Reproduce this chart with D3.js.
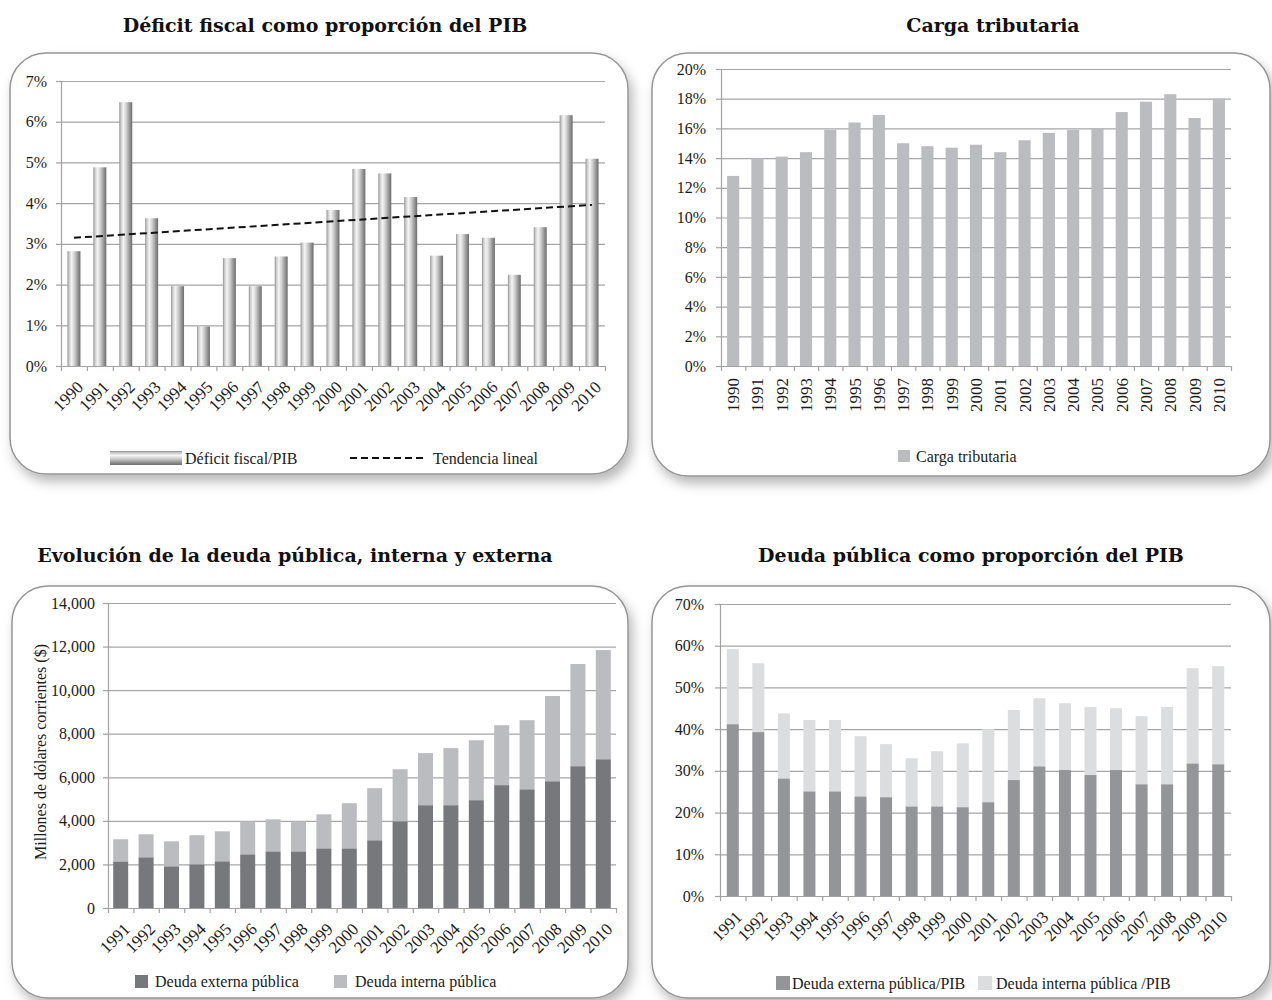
<!DOCTYPE html>
<html>
<head>
<meta charset="utf-8">
<script src="https://cdn.jsdelivr.net/npm/d3@7/dist/d3.min.js"></script>
<style>
  html, body { margin: 0; padding: 0; background: #ffffff; }
  svg { display: block; }
  .title { font-family: "DejaVu Serif", serif; font-weight: bold; font-size: 19px; fill: #111; }
  .tick text, .lbl { font-family: "Liberation Serif", serif; font-size: 16px; fill: #1b1b1b; }
  .yr { font-family: "Liberation Serif", serif; font-size: 17px; fill: #1b1b1b; }
  .legend text { font-family: "Liberation Serif", serif; font-size: 16px; fill: #1b1b1b; }
  .axis path, .axis line { stroke: #a2a2a2; stroke-width: 1.2; }
  .grid line { stroke: #a6a6a6; stroke-width: 1.2; }
  .grid path { display: none; }
</style>
</head>
<body>
<svg id="chart" width="1272" height="1000"></svg>
<script>
// ---- data ----
const yearsA = ["1990","1991","1992","1993","1994","1995","1996","1997","1998","1999","2000",
                "2001","2002","2003","2004","2005","2006","2007","2008","2009","2010"];
const yearsB = ["1991","1992","1993","1994","1995","1996","1997","1998","1999","2000",
                "2001","2002","2003","2004","2005","2006","2007","2008","2009","2010"];

// Déficit fiscal / PIB (%)
const deficitPIB = [2.82, 4.88, 6.48, 3.63, 1.96, 0.97, 2.65, 1.96, 2.69, 3.03, 3.83,
                    4.84, 4.73, 4.15, 2.71, 3.24, 3.15, 2.24, 3.41, 6.16, 5.09];
// Carga tributaria (%)
const cargaTributaria = [12.8, 14.0, 14.1, 14.4, 15.9, 16.4, 16.9, 15.0, 14.8, 14.7, 14.9,
                         14.4, 15.2, 15.7, 15.9, 16.0, 17.1, 17.8, 18.3, 16.7, 18.0];
// Deuda pública (millones de dólares corrientes)
const deudaExterna = [2140, 2330, 1915, 2005, 2145, 2465, 2600, 2600, 2740, 2740,
                      3110, 3980, 4720, 4720, 4950, 5640, 5450, 5820, 6510, 6830];
const deudaInterna = [1015, 1055, 1145, 1335, 1375, 1515, 1470, 1380, 1560, 2070,
                      2390, 2390, 2390, 2620, 2750, 2750, 3170, 3910, 4690, 5010];
// Deuda pública / PIB (%)
const deudaExternaPIB = [41.2, 39.3, 28.2, 25.1, 25.1, 23.9, 23.7, 21.5, 21.5, 21.3,
                         22.5, 27.8, 31.1, 30.2, 29.0, 30.2, 26.8, 26.8, 31.8, 31.6];
const deudaInternaPIB = [18.0, 16.5, 15.6, 17.1, 17.1, 14.4, 12.7, 11.5, 13.2, 15.3,
                         17.5, 16.8, 16.3, 16.0, 16.3, 14.8, 16.3, 18.5, 22.8, 23.5];

// tick values
const ticksDeficit = [0, 1, 2, 3, 4, 5, 6, 7];
const ticksCarga = [0, 2, 4, 6, 8, 10, 12, 14, 16, 18, 20];
const ticksDeuda = [0, 2000, 4000, 6000, 8000, 10000, 12000, 14000];
const ticksDeudaPIB = [0, 10, 20, 30, 40, 50, 60, 70];

// ---- drawing ----
const svg = d3.select("#chart");
const defs = svg.append("defs");

const shadow = defs.append("filter").attr("id", "panelShadow")
  .attr("x", "-10%").attr("y", "-10%").attr("width", "125%").attr("height", "130%");
shadow.append("feDropShadow").attr("dx", 4).attr("dy", 7).attr("stdDeviation", 6)
  .attr("flood-color", "#000").attr("flood-opacity", 0.28);

// cylinder shading for the deficit bars
const cylStops = [[0, "#8e8e8e"], [0.12, "#c9c9c9"], [0.32, "#f5f5f5"], [0.55, "#cdcdcd"],
                  [0.85, "#8b8b8b"], [1, "#6c6c6c"]];
const cyl = defs.append("linearGradient").attr("id", "cyl")
  .attr("x1", 0).attr("x2", 1).attr("y1", 0).attr("y2", 0);
cylStops.forEach(s => cyl.append("stop").attr("offset", s[0]).attr("stop-color", s[1]));
const cylV = defs.append("linearGradient").attr("id", "cylV")
  .attr("x1", 0).attr("x2", 0).attr("y1", 0).attr("y2", 1);
cylStops.forEach(s => cylV.append("stop").attr("offset", s[0]).attr("stop-color", s[1]));

function box(x, y, w, h) {
  svg.append("rect").attr("x", x).attr("y", y).attr("width", w).attr("height", h)
    .attr("rx", 36).attr("ry", 36)
    .attr("fill", "#fff").attr("stroke", "#959595").attr("stroke-width", 1.5)
    .attr("filter", "url(#panelShadow)");
}

function title(text, cx, y) {
  svg.append("text").attr("class", "title").attr("x", cx).attr("y", y)
    .attr("text-anchor", "middle").text(text);
}

// grid, y axis and category-boundary ticks on the x axis
function frame(p, y, ticks, fmt, pad, n) {
  svg.append("g").attr("class", "grid").attr("transform", `translate(${p.x0},0)`)
    .call(d3.axisLeft(y).tickValues(ticks).tickSize(-(p.x1 - p.x0)).tickFormat(""));
  svg.append("g").attr("class", "axis").attr("transform", `translate(${p.x0},0)`)
    .call(d3.axisLeft(y).tickValues(ticks).tickFormat(fmt).tickSize(5).tickPadding(pad).tickSizeOuter(0));
  const xi = d3.scaleLinear().domain([0, n]).range([p.x0, p.x1]);
  svg.append("g").attr("class", "axis").attr("transform", `translate(0,${p.yBot})`)
    .call(d3.axisBottom(xi).tickValues(d3.range(n + 1)).tickFormat("").tickSize(5).tickSizeOuter(0));
}

function yearLabels(x, cats, yBot, mode) {
  const g = svg.append("g");
  cats.forEach(c => {
    const cx = x(c) + x.bandwidth() / 2;
    if (mode === "diag") {
      g.append("text").attr("class", "yr")
        .attr("transform", `translate(${cx + 6},${yBot + 18}) rotate(-45)`)
        .attr("text-anchor", "end").attr("dy", "0.35em").text(c);
    } else {
      g.append("text").attr("class", "yr")
        .attr("transform", `translate(${cx},${yBot + 12}) rotate(-90)`)
        .attr("text-anchor", "end").attr("dy", "0.35em").text(c);
    }
  });
}

const pct = d => d + "%";

// ===== Panel 1: Déficit fiscal como proporción del PIB =====
{
  box(10, 53, 618, 421);
  title("Déficit fiscal como proporción del PIB", 325, 32);
  const p = { x0: 61, x1: 605, yTop: 81, yBot: 366 };
  const y = d3.scaleLinear().domain([0, 7]).range([p.yBot, p.yTop]);
  const x = d3.scaleBand().domain(yearsA).range([p.x0, p.x1]).paddingInner(0.5).paddingOuter(0.25);
  frame(p, y, ticksDeficit, pct, 9, yearsA.length);
  svg.append("g").selectAll("rect").data(deficitPIB).join("rect")
    .attr("x", (d, i) => x(yearsA[i])).attr("width", x.bandwidth())
    .attr("y", d => y(d)).attr("height", d => y(0) - y(d))
    .attr("fill", "url(#cyl)");
  // linear trend (least squares on the year index)
  const n = deficitPIB.length;
  const mx = d3.mean(d3.range(n)), my = d3.mean(deficitPIB);
  const slope = d3.sum(deficitPIB, (d, i) => (i - mx) * (d - my)) / d3.sum(d3.range(n), i => (i - mx) ** 2);
  const icpt = my - slope * mx;
  const cx = i => x(yearsA[i]) + x.bandwidth() / 2;
  svg.append("line")
    .attr("x1", cx(0)).attr("y1", y(icpt))
    .attr("x2", cx(n - 1)).attr("y2", y(icpt + slope * (n - 1)))
    .attr("stroke", "#111").attr("stroke-width", 2).attr("stroke-dasharray", "7,4");
  yearLabels(x, yearsA, p.yBot, "diag");
  const lg = svg.append("g").attr("class", "legend");
  lg.append("rect").attr("x", 110).attr("y", 451).attr("width", 72).attr("height", 14).attr("fill", "url(#cylV)");
  lg.append("text").attr("x", 185).attr("y", 458).attr("dy", "0.35em").text("Déficit fiscal/PIB");
  lg.append("line").attr("x1", 350).attr("x2", 424).attr("y1", 458).attr("y2", 458)
    .attr("stroke", "#111").attr("stroke-width", 2).attr("stroke-dasharray", "7,4");
  lg.append("text").attr("x", 433).attr("y", 458).attr("dy", "0.35em").text("Tendencia lineal");
}

// ===== Panel 2: Carga tributaria =====
{
  box(652, 53, 618, 423);
  title("Carga tributaria", 993, 32);
  const p = { x0: 721, x1: 1231, yTop: 69, yBot: 366 };
  const y = d3.scaleLinear().domain([0, 20]).range([p.yBot, p.yTop]);
  const x = d3.scaleBand().domain(yearsA).range([p.x0, p.x1]).paddingInner(0.5).paddingOuter(0.25);
  frame(p, y, ticksCarga, pct, 10, yearsA.length);
  svg.append("g").selectAll("rect").data(cargaTributaria).join("rect")
    .attr("x", (d, i) => x(yearsA[i])).attr("width", x.bandwidth())
    .attr("y", d => y(d)).attr("height", d => y(0) - y(d))
    .attr("fill", "#bbbcbf");
  yearLabels(x, yearsA, p.yBot, "vert");
  const lg = svg.append("g").attr("class", "legend");
  lg.append("rect").attr("x", 898).attr("y", 450).attr("width", 12).attr("height", 12).attr("fill", "#bbbcbf");
  lg.append("text").attr("x", 916).attr("y", 456).attr("dy", "0.35em").text("Carga tributaria");
}

// ===== Panel 3: Evolución de la deuda pública, interna y externa =====
{
  box(12, 586, 616, 412);
  title("Evolución de la deuda pública, interna y externa", 295, 562);
  const p = { x0: 108, x1: 616, yTop: 603, yBot: 908 };
  const y = d3.scaleLinear().domain([0, 14000]).range([p.yBot, p.yTop]);
  const x = d3.scaleBand().domain(yearsB).range([p.x0, p.x1]).paddingInner(0.41).paddingOuter(0.205);
  frame(p, y, ticksDeuda, d3.format(","), 8, yearsB.length);
  const rows = yearsB.map((yr, i) => ({ yr, ext: deudaExterna[i], int: deudaInterna[i] }));
  const stacked = d3.stack().keys(["ext", "int"])(rows);
  const colors = { ext: "#77787c", int: "#bbbcc0" };
  svg.append("g").selectAll("g").data(stacked).join("g").attr("fill", s => colors[s.key])
    .selectAll("rect").data(s => s).join("rect")
    .attr("x", d => x(d.data.yr)).attr("width", x.bandwidth())
    .attr("y", d => y(d[1])).attr("height", d => y(d[0]) - y(d[1]));
  yearLabels(x, yearsB, p.yBot, "diag");
  svg.append("text").attr("class", "lbl")
    .attr("transform", "translate(40,752) rotate(-90)")
    .attr("text-anchor", "middle").attr("dy", "0.35em")
    .text("Millones de dólares corrientes ($)");
  const lg = svg.append("g").attr("class", "legend");
  lg.append("rect").attr("x", 135).attr("y", 975).attr("width", 13).attr("height", 13).attr("fill", colors.ext);
  lg.append("text").attr("x", 155).attr("y", 981).attr("dy", "0.35em").text("Deuda externa pública");
  lg.append("rect").attr("x", 334).attr("y", 975).attr("width", 13).attr("height", 13).attr("fill", colors.int);
  lg.append("text").attr("x", 355).attr("y", 981).attr("dy", "0.35em").text("Deuda interna pública");
}

// ===== Panel 4: Deuda pública como proporción del PIB =====
{
  box(652, 586, 618, 412);
  title("Deuda pública como proporción del PIB", 971, 562);
  const p = { x0: 720, x1: 1231, yTop: 604, yBot: 896 };
  const y = d3.scaleLinear().domain([0, 70]).range([p.yBot, p.yTop]);
  const x = d3.scaleBand().domain(yearsB).range([p.x0, p.x1]).paddingInner(0.53).paddingOuter(0.265);
  frame(p, y, ticksDeudaPIB, pct, 11, yearsB.length);
  const rows = yearsB.map((yr, i) => ({ yr, ext: deudaExternaPIB[i], int: deudaInternaPIB[i] }));
  const stacked = d3.stack().keys(["ext", "int"])(rows);
  const colors = { ext: "#949599", int: "#dcdddf" };
  svg.append("g").selectAll("g").data(stacked).join("g").attr("fill", s => colors[s.key])
    .selectAll("rect").data(s => s).join("rect")
    .attr("x", d => x(d.data.yr)).attr("width", x.bandwidth())
    .attr("y", d => y(d[1])).attr("height", d => y(d[0]) - y(d[1]));
  yearLabels(x, yearsB, p.yBot, "diag");
  const lg = svg.append("g").attr("class", "legend");
  lg.append("rect").attr("x", 776).attr("y", 976).attr("width", 14).attr("height", 14).attr("fill", colors.ext);
  lg.append("text").attr("x", 792).attr("y", 983).attr("dy", "0.35em").text("Deuda externa pública/PIB");
  lg.append("rect").attr("x", 978).attr("y", 976).attr("width", 14).attr("height", 14).attr("fill", colors.int);
  lg.append("text").attr("x", 996).attr("y", 983).attr("dy", "0.35em").text("Deuda interna pública /PIB");
}
</script>
</body>
</html>
